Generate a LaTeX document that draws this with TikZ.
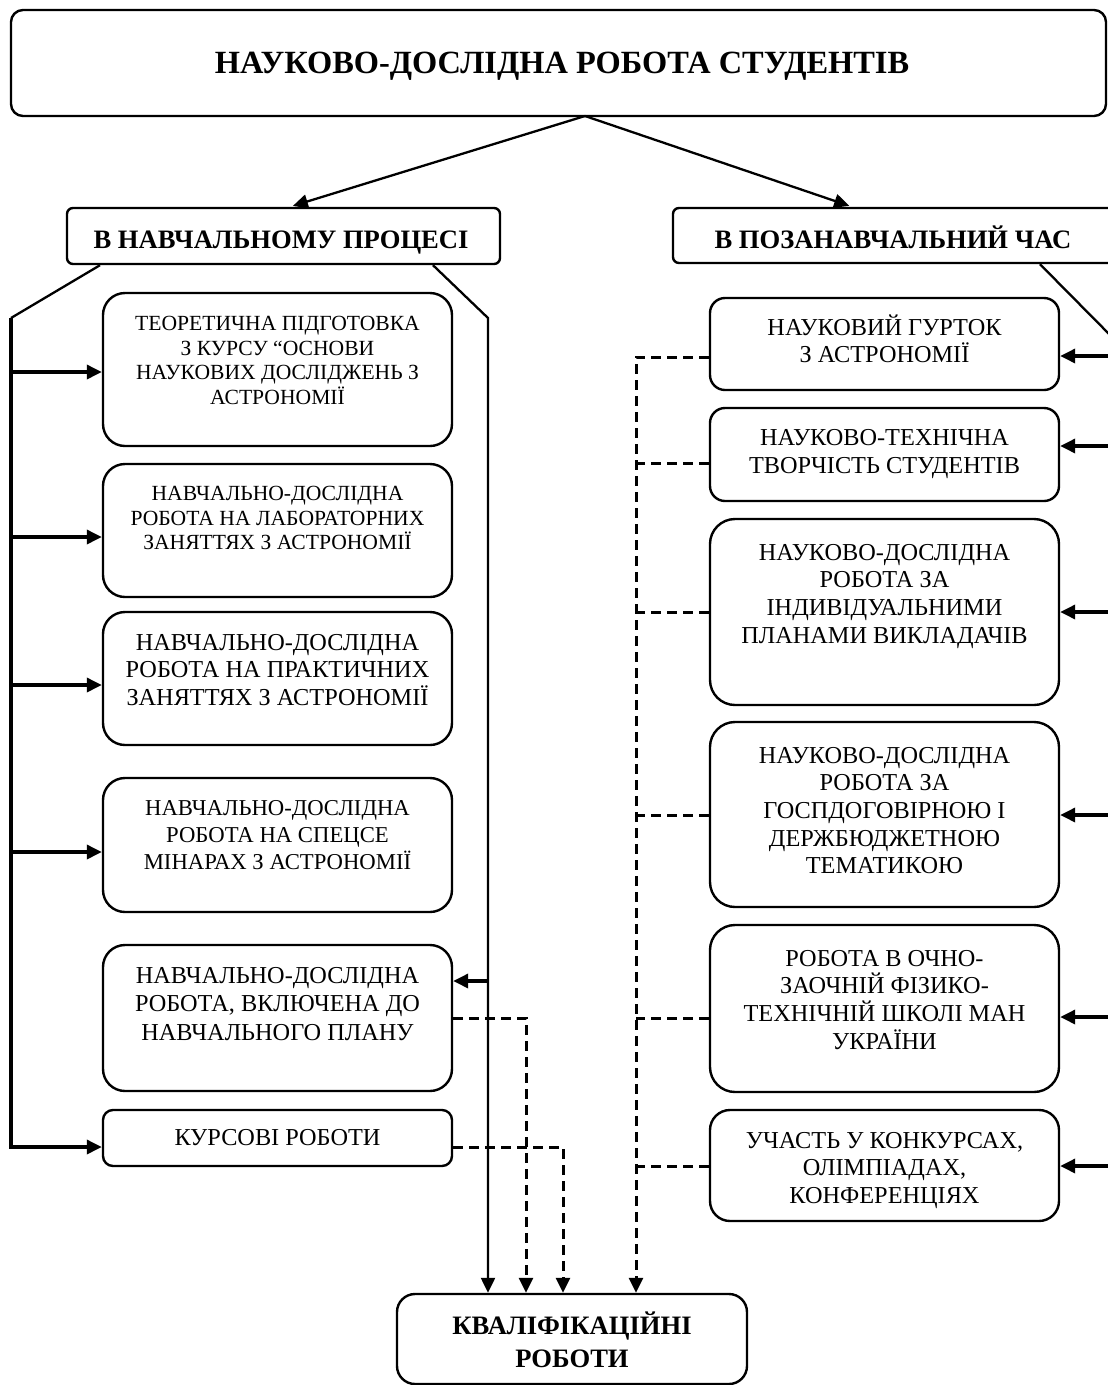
\documentclass[tikz,border=0pt]{standalone}
\usepackage{fontspec}
\setmainfont{Liberation Serif}
\usetikzlibrary{arrows.meta}
% zero-width strut that fixes the top of the first text line at 1em
\newcommand\lnhead{\rule{0pt}{1em}}
\begin{document}
\begin{tikzpicture}[x=1pt,y=-1pt,
  card/.style={draw, line width=2.4pt, rounded corners=#1, inner sep=0pt},
  card/.default=20pt,
  lbl/.style={anchor=north, inner sep=0pt, align=center},
  fa/.style={font=\fontsize{21.6}{24.8}\selectfont},
  fb/.style={font=\fontsize{22.7}{27}\selectfont},
  fc/.style={font=\fontsize{24.3}{27.6}\selectfont},
  fd/.style={font=\fontsize{24.3}{28.5}\selectfont},
  fhead/.style={font=\bfseries\fontsize{26.6}{33}\selectfont},
  ftitle/.style={font=\bfseries\fontsize{32.4}{36}\selectfont},
  arrowtip/.style={-{Triangle[length=15pt,width=14pt]}},
  lthin/.style={line width=2.3pt},
  lthick/.style={line width=3.4pt},
  dline/.style={line width=3pt, dash pattern=on 10pt off 6pt},
]
\useasboundingbox (0,0) rectangle (1108,1385);

% ---- top level ----
\node[card=12pt, minimum width=1095pt, minimum height=106pt] (top) at (558.5,63) {};
\node[lbl, ftitle] (topt) at (562,41.3) {\lnhead НАУКОВО-ДОСЛІДНА РОБОТА СТУДЕНТІВ};

\node[card=6pt, minimum width=433pt, minimum height=56pt] (hl) at (283.5,236) {};
\node[lbl, fhead] (hlt) at (281,221.2) {\lnhead В НАВЧАЛЬНОМУ ПРОЦЕСІ};
\node[card=6pt, minimum width=467pt, minimum height=55pt] (hr) at (906.5,235.5) {};
\node[lbl, fhead] (hrt) at (893,221.2) {\lnhead В ПОЗАНАВЧАЛЬНИЙ ЧАС};

\coordinate (apex) at (585,116);
\draw[lthin, arrowtip, shorten >=3pt] (apex) -- (hl.north -| 290,0);
\draw[lthin, arrowtip, shorten >=3pt] (apex) -- (hr.north -| 852,0);

% ---- left column ----
\node[card=22pt, minimum width=349pt, minimum height=153pt] (b1) at (277.5,369.5) {};
\node[lbl, fa] (b1t) at (277.5,308.5) {\lnhead ТЕОРЕТИЧНА ПІДГОТОВКА\\З КУРСУ “ОСНОВИ\\НАУКОВИХ ДОСЛІДЖЕНЬ З\\АСТРОНОМІЇ};
\node[card=22pt, minimum width=349pt, minimum height=133pt] (b2) at (277.5,530.5) {};
\node[lbl, fa] (b2t) at (277.5,478.5) {\lnhead НАВЧАЛЬНО-ДОСЛІДНА\\РОБОТА НА ЛАБОРАТОРНИХ\\ЗАНЯТТЯХ З АСТРОНОМІЇ};
\node[card=22pt, minimum width=349pt, minimum height=133pt] (b3) at (277.5,678.5) {};
\node[lbl, fc] (b3t) at (277.5,625.7) {\lnhead НАВЧАЛЬНО-ДОСЛІДНА\\РОБОТА НА ПРАКТИЧНИХ\\ЗАНЯТТЯХ З АСТРОНОМІЇ};
\node[card=22pt, minimum width=349pt, minimum height=134pt] (b4) at (277.5,845) {};
\node[lbl, fb] (b4t) at (277.5,792.8) {\lnhead НАВЧАЛЬНО-ДОСЛІДНА\\РОБОТА НА СПЕЦСЕ\\МІНАРАХ З АСТРОНОМІЇ};
\node[card=22pt, minimum width=349pt, minimum height=146pt] (b5) at (277.5,1018) {};
\node[lbl, fd] (b5t) at (277.5,958.7) {\lnhead НАВЧАЛЬНО-ДОСЛІДНА\\РОБОТА, ВКЛЮЧЕНА ДО\\НАВЧАЛЬНОГО ПЛАНУ};
\node[card=10pt, minimum width=349pt, minimum height=56pt] (b6) at (277.5,1138) {};
\node[lbl, fc] (b6t) at (277.5,1120.7) {\lnhead КУРСОВІ РОБОТИ};

% ---- right column ----
\node[card=15pt, minimum width=349pt, minimum height=92pt] (r1) at (884.5,344) {};
\node[lbl, fc] (r1t) at (884.5,310.7) {\lnhead НАУКОВИЙ ГУРТОК\\З АСТРОНОМІЇ};
\node[card=15pt, minimum width=349pt, minimum height=93pt] (r2) at (884.5,454.5) {};
\node[lbl, fd] (r2t) at (884.5,420.7) {\lnhead НАУКОВО-ТЕХНІЧНА\\ТВОРЧІСТЬ СТУДЕНТІВ};
\node[card=25pt, minimum width=349pt, minimum height=186pt] (r3) at (884.5,612) {};
\node[lbl, fc] (r3t) at (884.5,535.7) {\lnhead НАУКОВО-ДОСЛІДНА\\РОБОТА ЗА\\ІНДИВІДУАЛЬНИМИ\\ПЛАНАМИ ВИКЛАДАЧІВ};
\node[card=25pt, minimum width=349pt, minimum height=185pt] (r4) at (884.5,814.5) {};
\node[lbl, fc] (r4t) at (884.5,738.7) {\lnhead НАУКОВО-ДОСЛІДНА\\РОБОТА ЗА\\ГОСПДОГОВІРНОЮ І\\ДЕРЖБЮДЖЕТНОЮ\\ТЕМАТИКОЮ};
\node[card=25pt, minimum width=349pt, minimum height=167pt] (r5) at (884.5,1008.5) {};
\node[lbl, fc] (r5t) at (884.5,941.7) {\lnhead РОБОТА В ОЧНО-\\ЗАОЧНІЙ ФІЗИКО-\\ТЕХНІЧНІЙ ШКОЛІ МАН\\УКРАЇНИ};
\node[card=20pt, minimum width=349pt, minimum height=111pt] (r6) at (884.5,1165.5) {};
\node[lbl, fc] (r6t) at (884.5,1123.7) {\lnhead УЧАСТЬ У КОНКУРСАХ,\\ОЛІМПІАДАХ,\\КОНФЕРЕНЦІЯХ};

% ---- result ----
\node[card=18pt, minimum width=350pt, minimum height=90pt] (q) at (572,1339) {};
\node[lbl, fhead] (qt) at (572,1307.2) {\lnhead КВАЛІФІКАЦІЙНІ\\РОБОТИ};

% ---- left bracket and its branches ----
\coordinate (lt) at (11,318);
\coordinate (rtl) at (488,318);
\draw[lthin] (hl.south -| 100,0) -- (lt);
\draw[lthick, arrowtip] (lt) -- (lt |- 0,1147) -- (b6.west |- 0,1147);
\draw[lthick, arrowtip] (lt |- 0,372) -- (b1.west |- 0,372);
\draw[lthick, arrowtip] (lt |- 0,537) -- (b2.west |- 0,537);
\draw[lthick, arrowtip] (lt |- 0,685) -- (b3.west |- 0,685);
\draw[lthick, arrowtip] (lt |- 0,852) -- (b4.west |- 0,852);

\draw[lthin, arrowtip] (hl.south -| 433,0) -- (rtl) -- (q.north -| rtl);
\draw[lthick, arrowtip] (rtl |- 0,981) -- (b5.east |- 0,981);

\draw[dline, arrowtip] (b5.east |- 0,1018) -- (526,1018) -- (q.north -| 526,0);
\draw[dline, arrowtip] (b6.east |- 0,1147) -- (563,1147) -- (q.north -| 563,0);

% ---- right column links ----
\coordinate (dv) at (636,357);
\draw[dline, arrowtip] (r1.west |- dv) -- (dv) -- (q.north -| dv);
\draw[dline] (r2.west |- 0,463) -- (dv |- 0,463);
\draw[dline] (r3.west |- 0,612) -- (dv |- 0,612);
\draw[dline] (r4.west |- 0,815) -- (dv |- 0,815);
\draw[dline] (r5.west |- 0,1018) -- (dv |- 0,1018);
\draw[dline] (r6.west |- 0,1166) -- (dv |- 0,1166);

\coordinate (rr) at (1114,339);
\draw[lthin] (hr.south -| 1040,0) -- (rr) -- (rr |- 0,1166);
\draw[lthick, arrowtip] (rr |- 0,356) -- (r1.east |- 0,356);
\draw[lthick, arrowtip] (rr |- 0,446) -- (r2.east |- 0,446);
\draw[lthick, arrowtip] (rr |- 0,612) -- (r3.east |- 0,612);
\draw[lthick, arrowtip] (rr |- 0,815) -- (r4.east |- 0,815);
\draw[lthick, arrowtip] (rr |- 0,1017) -- (r5.east |- 0,1017);
\draw[lthick, arrowtip] (rr |- 0,1166) -- (r6.east |- 0,1166);
\end{tikzpicture}
\end{document}
